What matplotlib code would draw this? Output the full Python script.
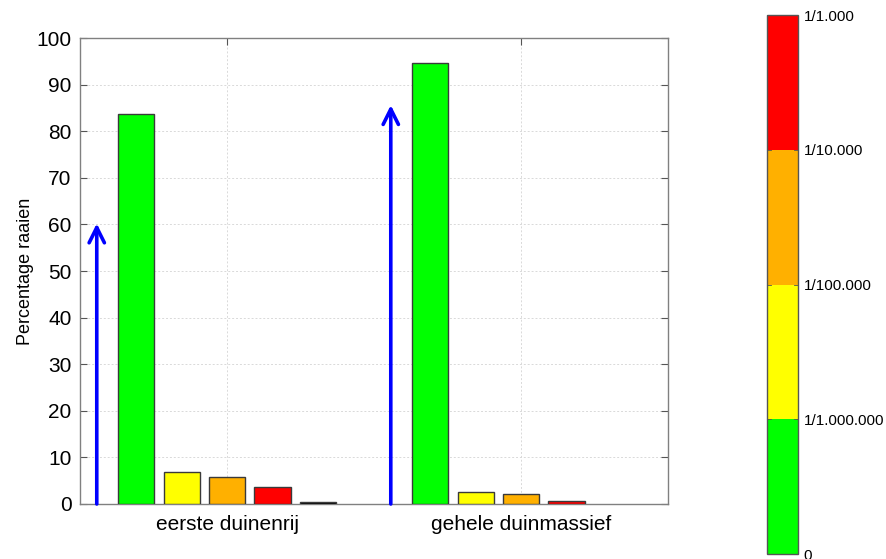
import matplotlib
matplotlib.use("Agg")
import matplotlib.pyplot as plt
import numpy as np
from matplotlib.colors import ListedColormap, BoundaryNorm
from matplotlib.cm import ScalarMappable

plt.rcParams['font.family'] = ['Liberation Sans', 'DejaVu Sans']

groups = ["eerste duinenrij", "gehele duinmassief"]
class_colors = ["#00FF00", "#FFFF00", "#FFB000", "#FF0000", "#000000"]
# percentage of transects per probability class, one list per group
green = [83.7, 94.7]
yellow = [6.8, 2.6]
orange = [5.7, 2.1]
red = [3.6, 0.7]
black = [0.5, 0.0]
series = [green, yellow, orange, red, black]
arrow_tops = [60.2, 85.6]

cbar_colors = ["#00FF00", "#FFFF00", "#FFB000", "#FF0000"]
cbar_labels = ["0", "1/1.000.000", "1/100.000", "1/10.000", "1/1.000"]

fig = plt.figure(figsize=(8.86, 5.59), dpi=100)
ax = fig.add_axes([0.0903, 0.0984, 0.6637, 0.8336])

x = np.arange(1, len(groups) + 1)
step = 0.1545
width = 0.123
for i, (vals, col) in enumerate(zip(series, class_colors)):
    offs = (i - 2) * step
    vals = np.asarray(vals)
    lw = np.where(vals > 0, 1.0, 0.0)
    ax.bar(x + offs, vals, width=width, color=col, edgecolor="#3a3a3a",
           linewidth=lw, zorder=3)

for xi, top in zip(x, arrow_tops):
    ax.annotate("", xy=(xi - 0.443, top), xytext=(xi - 0.443, 0),
                arrowprops=dict(arrowstyle="->,head_length=1.1,head_width=0.55",
                                color="#0000FF", lw=2.6, shrinkA=0, shrinkB=0),
                zorder=4)

ax.set_xlim(0.5, 2.5)
ax.set_ylim(0, 100)
ax.set_yticks(np.arange(0, 101, 10))
ax.set_xticks(x)
ax.set_xticklabels(groups)
ax.set_ylabel("Percentage raaien", fontsize=13, labelpad=2)
ax.tick_params(axis="both", direction="in", length=5, labelsize=15,
               top=True, right=True, color="#555555", width=0.8)
ax.tick_params(axis="y", pad=6)
ax.tick_params(axis="x", pad=8)
ax.grid(True, linestyle=(0, (2, 2)), color="#d9d9d9", linewidth=0.7, zorder=0)
for s in ax.spines.values():
    s.set_color("#808080")
    s.set_linewidth(1.0)

# colorbar for probability classes
cax = fig.add_axes([0.8657, 0.0089, 0.035, 0.964])
cmap = ListedColormap(cbar_colors)
norm = BoundaryNorm(np.arange(0, len(cbar_colors) + 1), cmap.N)
cb = fig.colorbar(ScalarMappable(norm=norm, cmap=cmap), cax=cax,
                  ticks=np.arange(0, len(cbar_colors) + 1))
cb.ax.set_yticklabels(cbar_labels)
cb.ax.tick_params(length=0, labelsize=11, pad=4)
cb.outline.set_edgecolor("#555555")
cb.outline.set_linewidth(1.0)
for b in range(1, len(cbar_colors)):
    cax.axhline(b, color="#555555", lw=0.6, xmax=0.12)
    cax.axhline(b, color="#555555", lw=0.6, xmin=0.88)

fig.savefig("out.png", dpi=100)
